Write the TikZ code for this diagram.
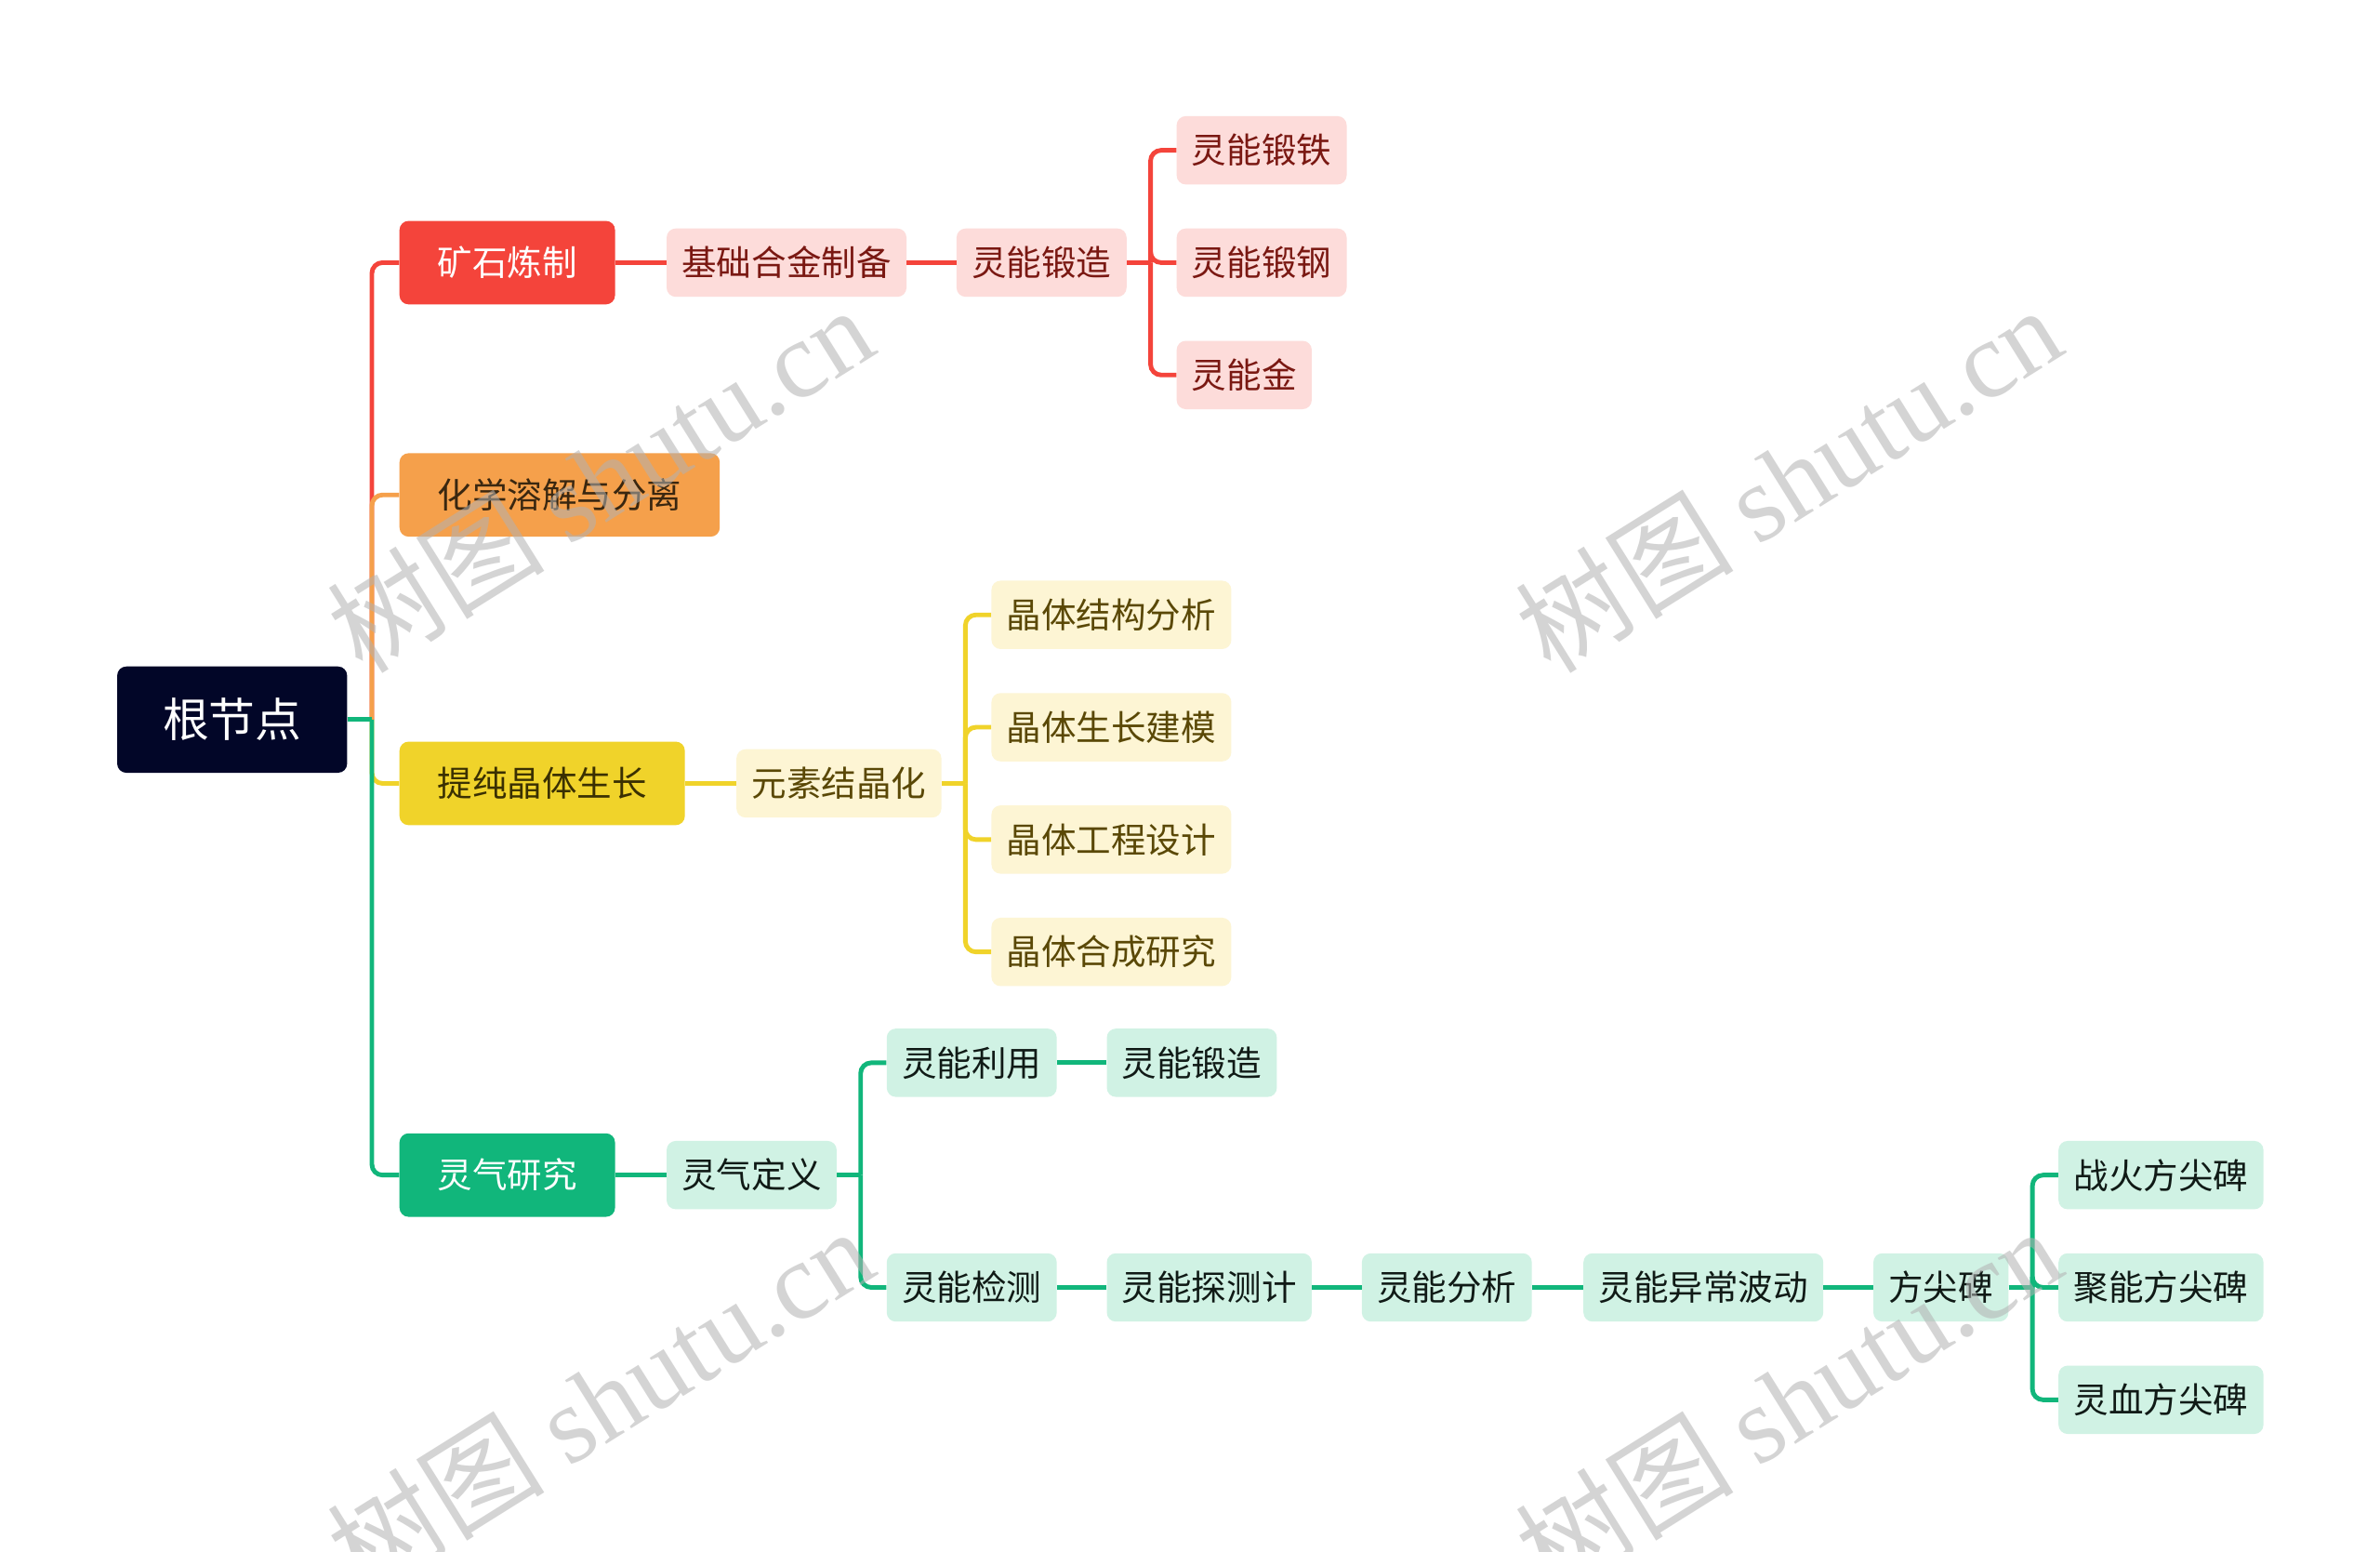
\documentclass[tikz,border=0pt]{standalone}
\usepackage{fontspec}
\setmainfont{Noto Sans CJK SC}
\newfontfamily\wmlat{Liberation Serif}
\usetikzlibrary{calc}
\definecolor{cRed}{HTML}{F4443B}
\definecolor{cOrange}{HTML}{F5A04B}
\definecolor{cYellow}{HTML}{F0D32A}
\definecolor{cGreen}{HTML}{11B67B}
\definecolor{cRoot}{HTML}{020628}
\definecolor{fRed}{HTML}{FDDCDA}
\definecolor{tRed}{HTML}{7A1812}
\definecolor{fYellow}{HTML}{FDF5D4}
\definecolor{tYellow}{HTML}{5A4806}
\definecolor{fGreen}{HTML}{D0F2E4}
\definecolor{tGreen}{HTML}{101A16}
\definecolor{tOrange}{HTML}{3A2710}
\definecolor{tYel1}{HTML}{3A3002}
\tikzset{
  base/.style={rounded corners=6pt, inner ysep=0pt, anchor=west, font=\fontsize{23}{27}\selectfont},
  lone/.style={base, inner xsep=25pt, minimum height=55pt},
  ltwo/.style={base, inner xsep=10pt, minimum height=45pt},
  redleaf/.style={ltwo, fill=fRed, text=tRed},
  yelleaf/.style={ltwo, fill=fYellow, text=tYellow},
  grnleaf/.style={ltwo, fill=fGreen, text=tGreen},
  conn/.style={line width=3pt},
  fan/.style={line width=3pt, rounded corners=7pt},
  wm/.style={rotate=32, text=black!30, opacity=0.55, font=\fontsize{72}{80}\selectfont}
}
\begin{document}
\begin{tikzpicture}[x=1pt,y=-1pt]
\useasboundingbox (0,0) rectangle (1568,1022);
\fill[white] (0,0) rectangle (1568,1022);
% root
\node[base, fill=cRoot, text=white, inner xsep=30pt, minimum height=70pt, font=\fontsize{30.5}{36}\selectfont] (root) at (77,474) {根节点};
% level 1
\node[lone, fill=cRed, text=white] (n1) at (263,173) {矿石炼制};
\node[lone, fill=cOrange, text=tOrange] (n2) at (263,326) {化学溶解与分离};
\node[lone, fill=cYellow, text=tYel1] (n3) at (263,516) {提纯晶体生长};
\node[lone, fill=cGreen, text=white] (n4) at (263,774) {灵气研究};
% red branch
\node[redleaf] (n11) at (439,173) {基础合金制备};
\node[redleaf] (n12) at (630,173) {灵能锻造};
\node[redleaf] (a1) at (775,99) {灵能锻铁};
\node[redleaf] (a2) at (775,173) {灵能锻钢};
\node[redleaf] (a3) at (775,247) {灵能金};
% yellow branch
\node[yelleaf] (n31) at (485,516) {元素结晶化};
\node[yelleaf] (b1) at (653,405) {晶体结构分析};
\node[yelleaf] (b2) at (653,479) {晶体生长建模};
\node[yelleaf] (b3) at (653,553) {晶体工程设计};
\node[yelleaf] (b4) at (653,627) {晶体合成研究};
% green branch
\node[grnleaf] (n41) at (439,774) {灵气定义};
\node[grnleaf] (g1) at (584,700) {灵能利用};
\node[grnleaf] (g2) at (729,700) {灵能锻造};
\node[grnleaf] (g3) at (584,848) {灵能检测};
\node[grnleaf] (g4) at (729,848) {灵能探测计};
\node[grnleaf] (g5) at (897,848) {灵能分析};
\node[grnleaf] (g6) at (1043,848) {灵能异常波动};
\node[grnleaf] (g7) at (1234,848) {方尖碑};
\node[grnleaf] (h1) at (1356,774) {战火方尖碑};
\node[grnleaf] (h2) at (1356,848) {聚能方尖碑};
\node[grnleaf] (h3) at (1356,922) {灵血方尖碑};
% junctions
\coordinate (jr) at (245,474);
\coordinate (ja) at (758,173);
\coordinate (jb) at (636,516);
\coordinate (jg) at (567,774);
\coordinate (jh) at (1339,848);
% root trunk
\draw[fan, cRed] (jr) |- (n1.west);
\draw[fan, cOrange] (jr) |- (n2.west);
\draw[fan, cYellow] (jr) |- (n3.west);
\draw[fan, cGreen] (jr) |- (n4.west);
\draw[conn, cGreen] (root.east) -- (jr);
% red
\draw[conn, cRed] (n1.east) -- (n11.west);
\draw[conn, cRed] (n11.east) -- (n12.west);
\draw[conn, cRed] (n12.east) -- (ja);
\draw[fan, cRed] (ja) |- (a1.west);
\draw[fan, cRed] (ja) |- (a2.west);
\draw[fan, cRed] (ja) |- (a3.west);
% yellow
\draw[conn, cYellow] (n3.east) -- (n31.west);
\draw[conn, cYellow] (n31.east) -- (jb);
\draw[fan, cYellow] (jb) |- (b1.west);
\draw[fan, cYellow] (jb) |- (b2.west);
\draw[fan, cYellow] (jb) |- (b3.west);
\draw[fan, cYellow] (jb) |- (b4.west);
% green
\draw[conn, cGreen] (n4.east) -- (n41.west);
\draw[conn, cGreen] (n41.east) -- (jg);
\draw[fan, cGreen] (jg) |- (g1.west);
\draw[fan, cGreen] (jg) |- (g3.west);
\draw[conn, cGreen] (g1.east) -- (g2.west);
\draw[conn, cGreen] (g3.east) -- (g4.west);
\draw[conn, cGreen] (g4.east) -- (g5.west);
\draw[conn, cGreen] (g5.east) -- (g6.west);
\draw[conn, cGreen] (g6.east) -- (g7.west);
\draw[conn, cGreen] (g7.east) -- (jh);
\draw[fan, cGreen] (jh) |- (h1.west);
\draw[fan, cGreen] (jh) |- (h2.west);
\draw[fan, cGreen] (jh) |- (h3.west);
% watermarks
\node[wm] (w1) at (395,315) {树图 {\wmlat shutu.cn}};
\node[wm] (w2) at (1178,315) {树图 {\wmlat shutu.cn}};
\node[wm] (w3) at (395,922) {树图 {\wmlat shutu.cn}};
\node[wm] (w4) at (1178,922) {树图 {\wmlat shutu.cn}};
\end{tikzpicture}
\end{document}
